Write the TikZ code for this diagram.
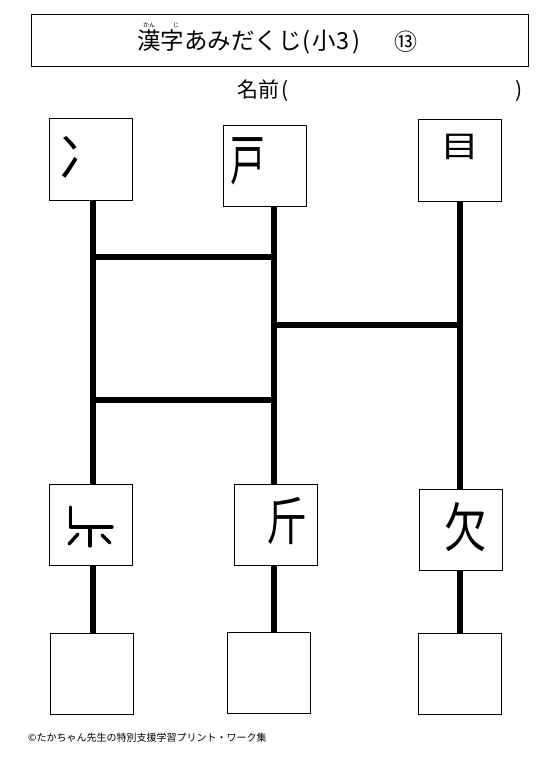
\documentclass[tikz,border=0pt]{standalone}
\usepackage{fontspec}
\setmainfont{Noto Sans CJK JP}
\begin{document}
\begin{tikzpicture}[x=1pt,y=-1pt,
  box/.style={draw, line width=1pt, minimum width=83pt, minimum height=81pt, inner sep=0pt},
  rail/.style={line width=5.5pt},
  rung/.style={line width=6.5pt},
  glyph/.style={inner sep=0pt, font=\fontsize{#1}{#1}\selectfont},
  stroke/.style={line width=3.4pt, line cap=round, line join=round}]
\useasboundingbox (0,0) rectangle (551,778);
% title
\node[draw, line width=1pt, minimum width=497pt, minimum height=52pt, inner sep=0pt] (title) at (279.5,41) {};
\node[anchor=west, inner sep=0pt, font=\fontsize{23.5}{23.5}\selectfont] (ttext) at (137,42) {漢字あみだくじ\kern1pt(\kern1.5pt小\kern1pt3\kern3pt)};
\node[inner sep=0pt, font=\fontsize{23}{23}\selectfont] (tnum) at (406,42) {⑬};
\node[inner sep=0pt, font=\fontsize{6}{6}\selectfont] (ruby1) at (149,25) {かん};
\node[inner sep=0pt, font=\fontsize{6}{6}\selectfont] (ruby2) at (176,25) {じ};
% name
\node[anchor=west, inner sep=0pt, font=\fontsize{21}{21}\selectfont] (name) at (237,91) {名前\kern2pt(};
\node[anchor=east, inner sep=0pt, font=\fontsize{21}{21}\selectfont] (nameclose) at (523,91) {)};
% boxes
\node[box] (t1) at (90.5,159.5) {};
\node[box] (t2) at (265,166) {};
\node[box] (t3) at (460,160.5) {};
\node[box] (b1) at (90.5,524.5) {};
\node[box] (b2) at (276,524.5) {};
\node[box] (b3) at (461,529.5) {};
\node[box] (a1) at (91.5,673.5) {};
\node[box] (a2) at (269,672.5) {};
\node[box] (a3) at (460,673.5) {};
% rail x positions and rung heights
\coordinate (x1) at (93,0);
\coordinate (x2) at (274,0);
\coordinate (x3) at (460,0);
\coordinate (r1) at (0,257);
\coordinate (r2) at (0,400);
\coordinate (r3) at (0,325);
% rails
\draw[rail] (t1.south -| x1) -- (b1.north -| x1);
\draw[rail] (b1.south -| x1) -- (a1.north -| x1);
\draw[rail] (t2.south -| x2) -- (b2.north -| x2);
\draw[rail] (b2.south -| x2) -- (a2.north -| x2);
\draw[rail] (t3.south -| x3) -- (b3.north -| x3);
\draw[rail] (b3.south -| x3) -- (a3.north -| x3);
% rungs
\draw[rung] (x1 |- r1) -- (x2 |- r1);
\draw[rung] (x1 |- r2) -- (x2 |- r2);
\draw[rung] (x2 |- r3) -- (x3 |- r3);
% glyphs
\node[glyph=52] (g1) at (84,157) {冫};
\node[glyph=55] (g2) at (248,161) {\scalebox{0.63}[1]{戸}};
\node[glyph=30] (g3) at (460,147) {\scalebox{1.3}[1]{目}};
\node[glyph=52] (g5) at (287,521) {\scalebox{0.75}[1]{斤}};
\node[glyph=53] (g6) at (466,527) {\scalebox{0.8}[1]{欠}};
% bottom part of 県
\draw[stroke] (70.5,507) -- (70.5,527) -- (112,527);
\draw[stroke] (90,529) -- (90,546);
\draw[stroke] (78,534) -- (69,544);
\draw[stroke] (102,535) -- (110,543);
% footer
\node[anchor=west, inner sep=0pt, font=\fontsize{10}{10}\selectfont] (footer) at (28,738) {©たかちゃん先生の特別支援学習プリント・ワーク集};
\end{tikzpicture}
\end{document}
